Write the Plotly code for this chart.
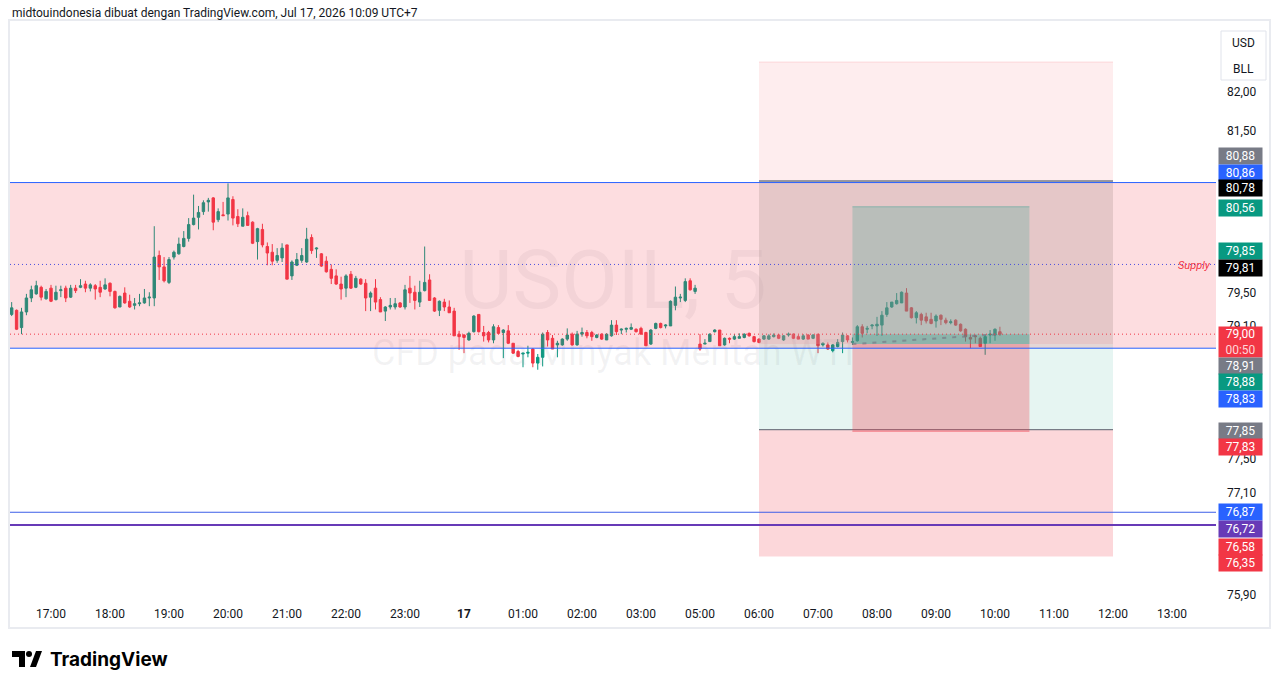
import math
import plotly.graph_objects as go

# ---------------- data (5-minute candles, USOIL) ----------------
opens = [
    79.24, 79.29, 79.08, 79.27, 79.44, 79.49, 79.57, 79.43, 79.56, 79.42, 79.53, 79.56,
    79.45, 79.56, 79.57, 79.61, 79.56, 79.59, 79.57, 79.55, 79.62, 79.52, 79.33, 79.50,
    79.40, 79.35, 79.37, 79.38, 79.44, 79.44, 79.96, 79.82, 79.63, 79.94, 79.98, 80.07,
    80.17, 80.34, 80.43, 80.50, 80.62, 80.67, 80.40, 80.46, 80.47, 80.65, 80.44, 80.32,
    80.45, 80.37, 80.13, 80.28, 80.07, 80.00, 79.90, 79.93, 80.09, 79.71, 79.84, 79.90,
    79.88, 80.18, 80.04, 79.98, 79.89, 79.79, 79.71, 79.61, 79.56, 79.73, 79.57, 79.67,
    79.62, 79.45, 79.56, 79.42, 79.28, 79.33, 79.33, 79.38, 79.33, 79.56, 79.51, 79.39,
    79.53, 79.66, 79.44, 79.29, 79.39, 79.33, 79.28, 79.00, 78.99, 78.93, 79.03, 79.24,
    79.02, 79.02, 78.93, 79.08, 79.02, 79.04, 78.89, 78.79, 78.76, 78.77, 78.82, 78.65,
    78.72, 79.02, 78.95, 78.87, 78.87, 78.94, 79.00, 78.87, 79.00, 79.02, 79.02, 78.96,
    79.00, 78.93, 78.98, 79.11, 79.05, 79.06, 79.06, 79.06, 79.07, 79.02, 78.88, 79.07,
    79.13, 79.10, 79.10, 79.35, 79.44, 79.41, 79.65, 79.52,
    78.88, 78.88, 78.91, 79.03, 79.05, 78.87, 78.95, 78.94, 78.95, 78.96, 79.01, 78.97,
    78.94, 78.94, 78.94, 78.97, 78.99, 78.93, 78.99, 79.00, 78.97, 78.94, 78.99, 78.95,
    79.00, 78.87, 78.87, 78.80, 78.85, 78.91, 78.98, 78.90, 78.92, 79.09, 79.06, 79.10,
    79.10, 79.11, 79.24, 79.33, 79.37, 79.38, 79.50, 79.32, 79.20, 79.24, 79.21, 79.18,
    79.16, 79.23, 79.17, 79.14, 79.17, 79.12, 79.06, 78.96, 78.98, 78.95, 78.89, 78.99,
    78.99, 79.03,
]
highs = [
    79.39, 79.30, 79.32, 79.49, 79.59, 79.65, 79.59, 79.55, 79.60, 79.59, 79.59, 79.59,
    79.60, 79.60, 79.67, 79.65, 79.62, 79.61, 79.65, 79.68, 79.63, 79.53, 79.47, 79.57,
    79.48, 79.44, 79.49, 79.55, 79.51, 80.32, 80.02, 79.94, 79.94, 80.02, 80.18, 80.26,
    80.42, 80.71, 80.57, 80.64, 80.67, 80.68, 80.54, 80.62, 80.85, 80.69, 80.53, 80.54,
    80.50, 80.38, 80.30, 80.35, 80.12, 80.10, 80.05, 80.11, 80.09, 79.90, 79.99, 80.05,
    80.30, 80.22, 80.06, 79.99, 79.95, 79.85, 79.79, 79.70, 79.73, 79.77, 79.71, 79.68,
    79.67, 79.52, 79.67, 79.45, 79.34, 79.44, 79.44, 79.39, 79.60, 79.71, 79.59, 79.65,
    80.07, 79.73, 79.45, 79.41, 79.43, 79.41, 79.32, 79.04, 79.00, 79.03, 79.23, 79.24,
    79.10, 79.04, 79.12, 79.11, 79.06, 79.11, 78.89, 78.81, 78.77, 78.86, 78.83, 78.76,
    79.02, 79.05, 78.99, 78.92, 78.95, 79.07, 79.02, 79.04, 79.08, 79.05, 79.04, 79.00,
    79.01, 79.01, 79.17, 79.17, 79.07, 79.08, 79.13, 79.07, 79.09, 79.03, 79.06, 79.14,
    79.14, 79.12, 79.41, 79.58, 79.49, 79.68, 79.68, 79.60,
    79.00, 78.94, 79.01, 79.06, 79.05, 78.96, 78.96, 79.00, 79.01, 79.01, 79.02, 78.98,
    78.95, 78.99, 79.00, 79.01, 79.00, 78.99, 79.02, 79.01, 78.99, 79.00, 79.00, 79.00,
    79.00, 78.90, 78.90, 78.88, 78.94, 79.02, 78.99, 78.96, 79.11, 79.12, 79.10, 79.12,
    79.21, 79.28, 79.39, 79.39, 79.50, 79.52, 79.56, 79.33, 79.28, 79.26, 79.26, 79.26,
    79.24, 79.24, 79.20, 79.18, 79.18, 79.13, 79.07, 78.99, 78.99, 78.97, 78.99, 79.05,
    79.07, 79.09,
]
lows = [
    79.22, 79.05, 79.00, 79.23, 79.39, 79.48, 79.41, 79.42, 79.39, 79.41, 79.45, 79.39,
    79.44, 79.50, 79.56, 79.51, 79.52, 79.42, 79.45, 79.54, 79.46, 79.31, 79.33, 79.37,
    79.32, 79.30, 79.34, 79.37, 79.34, 79.34, 79.66, 79.63, 79.61, 79.91, 79.97, 80.06,
    80.13, 80.33, 80.28, 80.46, 80.50, 80.27, 80.37, 80.45, 80.39, 80.33, 80.31, 80.32,
    80.33, 80.10, 79.91, 80.06, 79.84, 79.84, 79.87, 79.88, 79.67, 79.66, 79.83, 79.87,
    79.87, 79.98, 79.93, 79.82, 79.75, 79.61, 79.60, 79.42, 79.45, 79.55, 79.56, 79.60,
    79.28, 79.28, 79.30, 79.27, 79.16, 79.30, 79.30, 79.32, 79.30, 79.38, 79.30, 79.33,
    79.52, 79.41, 79.27, 79.22, 79.28, 79.26, 78.98, 78.81, 78.77, 78.92, 79.02, 79.02,
    78.91, 78.90, 78.89, 79.00, 78.71, 78.88, 78.76, 78.72, 78.60, 78.72, 78.60, 78.57,
    78.61, 78.85, 78.82, 78.72, 78.86, 78.92, 78.86, 78.86, 78.97, 78.95, 78.92, 78.95,
    78.93, 78.93, 78.97, 78.99, 79.00, 79.02, 79.05, 79.02, 79.00, 78.86, 78.87, 79.06,
    79.07, 79.07, 79.10, 79.29, 79.39, 79.39, 79.53, 79.49,
    78.80, 78.88, 78.91, 79.02, 78.86, 78.86, 78.89, 78.93, 78.95, 78.95, 78.97, 78.90,
    78.89, 78.93, 78.93, 78.96, 78.94, 78.92, 78.97, 78.94, 78.94, 78.93, 78.94, 78.94,
    78.77, 78.85, 78.81, 78.78, 78.84, 78.77, 78.90, 78.87, 78.91, 78.96, 79.01, 79.06,
    78.98, 78.98, 79.21, 79.32, 79.36, 79.38, 79.28, 79.19, 79.13, 79.11, 79.13, 79.12,
    79.08, 79.11, 79.12, 79.12, 79.10, 79.03, 78.91, 78.83, 78.89, 78.85, 78.75, 78.89,
    78.92, 78.98,
]
closes = [
    79.32, 79.06, 79.27, 79.44, 79.54, 79.59, 79.45, 79.52, 79.40, 79.51, 79.54, 79.44,
    79.56, 79.53, 79.59, 79.56, 79.60, 79.55, 79.51, 79.60, 79.52, 79.32, 79.46, 79.38,
    79.33, 79.37, 79.38, 79.44, 79.45, 79.94, 79.82, 79.65, 79.91, 80.00, 80.10, 80.17,
    80.34, 80.42, 80.49, 80.61, 80.64, 80.37, 80.50, 80.45, 80.67, 80.42, 80.35, 80.43,
    80.33, 80.11, 80.29, 80.09, 79.99, 79.89, 79.96, 80.05, 79.67, 79.88, 79.91, 79.96,
    80.16, 80.02, 80.05, 79.83, 79.76, 79.68, 79.61, 79.55, 79.71, 79.56, 79.68, 79.61,
    79.44, 79.50, 79.39, 79.27, 79.33, 79.35, 79.37, 79.33, 79.54, 79.50, 79.41, 79.51,
    79.63, 79.41, 79.28, 79.40, 79.33, 79.26, 78.98, 78.97, 78.96, 79.01, 79.22, 79.03,
    78.98, 78.93, 79.09, 79.01, 79.05, 78.89, 78.77, 78.73, 78.77, 78.78, 78.65, 78.72,
    79.00, 78.93, 78.82, 78.89, 78.94, 78.99, 78.87, 79.00, 79.02, 78.98, 78.97, 78.99,
    78.94, 79.00, 79.11, 79.03, 79.06, 79.07, 79.08, 79.03, 79.00, 78.86, 79.05, 79.13,
    79.08, 79.11, 79.40, 79.45, 79.45, 79.64, 79.54, 79.56,
    78.82, 78.89, 79.00, 79.05, 78.86, 78.95, 78.94, 78.97, 78.97, 79.00, 78.98, 78.91,
    78.90, 78.98, 78.98, 78.99, 78.95, 78.98, 79.00, 78.95, 78.94, 78.98, 78.94, 78.99,
    78.86, 78.89, 78.82, 78.87, 78.90, 78.99, 78.93, 78.91, 79.09, 79.01, 79.07, 79.11,
    79.12, 79.23, 79.32, 79.39, 79.41, 79.51, 79.28, 79.20, 79.26, 79.17, 79.16, 79.13,
    79.22, 79.18, 79.14, 79.15, 79.11, 79.04, 78.97, 78.94, 78.97, 78.85, 78.97, 79.00,
    79.06, 79.00,
]
bar_index = list(range(len(opens)))

# time-axis ticks (bar index of each labelled hour; 04:00 is the daily break)
tick_index = [8, 20, 32, 44, 56, 68, 80, 92, 104, 116, 128, 140, 152, 164, 176, 188, 200, 212, 224, 236]
tick_labels = ["17:00", "18:00", "19:00", "20:00", "21:00", "22:00", "23:00", "<b>17</b>",
               "01:00", "02:00", "03:00", "05:00", "06:00", "07:00", "08:00", "09:00",
               "10:00", "11:00", "12:00", "13:00"]

# price-axis ticks that are not hidden behind price labels (log scale)
price_ticks = [82.0, 81.5, 79.5, 79.1, 77.5, 77.1, 75.9]

# drawn levels
supply_top = 80.86
supply_bottom = 78.83
supply_mid = 79.85
last_price = 79.00
level_a = 76.87
level_b = 76.72

# outer position tool (bar indexes / prices)
outer_start, outer_end = 152, 224
outer_top = 82.37
outer_gray_top = 80.88
outer_entry = 78.88
outer_target = 77.85
outer_bottom = 76.35

# inner (long) position tool
inner_start, inner_end = 171, 207
inner_entry = 78.88
inner_tp = 80.56
inner_sl = 77.83

# price-scale labels
label_prices = [80.88, 80.86, 80.78, 80.56, 79.85, 79.81, 79.00, 78.91, 78.88, 78.83,
                77.85, 77.83, 76.87, 76.72, 76.58, 76.35]

# ---------------- styles ----------------
UP = "#089981"
DN = "#f23645"
BLUE = "#2962ff"
GRAY = "#787b86"
PURPLE = "#673ab7"
TXT = "#131722"
label_colors = [GRAY, BLUE, "#000000", UP, UP, "#000000", DN, GRAY, UP, BLUE,
                GRAY, DN, BLUE, PURPLE, DN, DN]
label_nudge = [25, 10, 1, -1, 13, 0, -8, -24, -38, -51, -1, -16, 0, -4, -10, -7]

x_lo, x_hi = -0.34, 244.95
p_lo, p_hi = 75.83, 82.89
log_lo, log_hi = math.log10(p_lo), math.log10(p_hi)


def pane_price(frac):
    return 10 ** (log_lo + frac * (log_hi - log_lo))


fig = go.Figure()

# watermark (under everything)
x_mid = (x_lo + x_hi) / 2
fig.add_trace(go.Scatter(
    x=[x_mid, x_mid], y=[pane_price(0.541), pane_price(0.422)],
    mode="text", text=["USOIL, 5", "CFD pada Minyak Mentah WTI"],
    textposition="middle center",
    textfont=dict(size=[82, 36], color="rgba(120,123,134,0.09)", family="Roboto"),
    hoverinfo="skip", showlegend=False))

fig.add_trace(go.Candlestick(
    x=bar_index, open=opens, high=highs, low=lows, close=closes,
    increasing=dict(line=dict(color=UP, width=1), fillcolor=UP),
    decreasing=dict(line=dict(color=DN, width=1), fillcolor=DN),
    whiskerwidth=0, hoverinfo="skip", showlegend=False))


def rect(x0, x1, y0, y1, fill, xref="x"):
    fig.add_shape(type="rect", xref=xref, yref="y", x0=x0, x1=x1, y0=y0, y1=y1,
                  fillcolor=fill, line=dict(width=0), layer="above")


def hline(x0, x1, y, color, width=1, dash="solid", xref="x"):
    fig.add_shape(type="line", xref=xref, yref="y", x0=x0, x1=x1, y0=y, y1=y,
                  line=dict(color=color, width=width, dash=dash), layer="above")


# supply zone
rect(0, 1, supply_bottom, supply_top, "rgba(242,54,69,0.17)", xref="paper")

# outer position tool
rect(outer_start, outer_end, outer_entry, outer_top, "rgba(242,54,69,0.09)")
rect(outer_start, outer_end, outer_entry, outer_gray_top, "rgba(165,180,178,0.27)")
rect(outer_start, outer_end, outer_target, outer_entry, "rgba(8,153,129,0.10)")
rect(outer_start, outer_end, outer_bottom, outer_target, "rgba(242,54,69,0.20)")
hline(outer_start, outer_end, outer_top, "rgba(242,54,69,0.15)")
hline(outer_start, outer_end, outer_gray_top, GRAY, 1.5)
hline(outer_start, outer_end, outer_target, GRAY, 1.2)

# inner long position tool
rect(inner_start, inner_end, inner_entry, inner_tp, "rgba(8,153,129,0.20)")
rect(inner_start, inner_end, inner_sl, inner_entry, "rgba(242,54,69,0.30)")
rect(inner_start, inner_end, inner_entry, last_price, "rgba(8,153,129,0.25)")
hline(inner_start, inner_end, inner_tp, "rgba(8,153,129,0.35)")
hline(inner_start, inner_end, inner_sl, "rgba(242,54,69,0.35)")
fig.add_shape(type="line", xref="x", yref="y", x0=inner_start, x1=bar_index[-1],
              y0=inner_entry, y1=closes[-1],
              line=dict(color="rgba(120,123,134,0.7)", width=2, dash="4px,6px"), layer="above")

# horizontal levels
hline(0, 1, supply_top, BLUE, 1, xref="paper")
hline(0, 1, supply_bottom, BLUE, 1, xref="paper")
hline(0, 1, supply_mid, "#4a4fe0", 1, "1px,3px", xref="paper")
hline(0, 1, last_price, DN, 1, "1px,3px", xref="paper")
hline(0, 1, level_a, "#3d5fe8", 1, xref="paper")
hline(0, 1, level_b, PURPLE, 2, xref="paper")

# ---------------- annotations ----------------
ann = []
ann.append(dict(xref="paper", yref="y", x=1, y=math.log10(supply_mid), xanchor="right",
                yanchor="middle", xshift=-3, yshift=-1, text="Supply", showarrow=False,
                font=dict(family="Roboto", size=11, color=DN, style="italic")))

for p, c, nudge in zip(label_prices, label_colors, label_nudge):
    txt = f"{p:.2f}".replace(".", ",")
    h = 14
    if p == last_price:
        txt = txt + "<br><span style='color:#ffd6da'>00:50</span>"
        h = 28
    ann.append(dict(xref="paper", yref="y", x=1, y=math.log10(p), xanchor="left",
                    yanchor="middle", xshift=2, yshift=nudge, text=txt, showarrow=False,
                    bgcolor=c, width=41, height=h, borderpad=1, align="center",
                    font=dict(family="Roboto", size=12, color="white")))

# header
ann.append(dict(xref="paper", yref="paper", x=0, y=1, xanchor="left", yanchor="middle",
                xshift=0, yshift=8, showarrow=False,
                text="midtouindonesia dibuat dengan TradingView.com, Jul 17, 2026 10:09 UTC+7",
                font=dict(family="Roboto", size=12, color=TXT)))
# currency box
ann.append(dict(xref="paper", yref="paper", x=1, y=1, xanchor="center", yanchor="middle",
                xshift=27, yshift=-22, showarrow=False, text="USD",
                font=dict(family="Roboto", size=12, color=TXT)))
ann.append(dict(xref="paper", yref="paper", x=1, y=1, xanchor="center", yanchor="middle",
                xshift=27, yshift=-48, showarrow=False, text="BLL",
                font=dict(family="Roboto", size=12, color=TXT)))
# logo text
ann.append(dict(xref="paper", yref="paper", x=0, y=0, xanchor="left", yanchor="middle",
                xshift=38, yshift=-58, showarrow=False, text="<b>TradingView</b>",
                font=dict(family="Inter", size=19, color="#000000")))

# frame, currency box, logo icon (pixel-sized decorations)
fig.add_shape(type="rect", xref="paper", yref="paper", xsizemode="pixel", ysizemode="pixel",
              xanchor=0, yanchor=0, x0=-1, x1=1260, y0=-27, y1=581,
              line=dict(color="#e9ebf0", width=2), fillcolor="rgba(0,0,0,0)", layer="above")
fig.add_shape(type="rect", xref="paper", yref="paper", xsizemode="pixel", ysizemode="pixel",
              xanchor=1, yanchor=1, x0=5, x1=50, y0=-10, y1=-59,
              line=dict(color="#e0e3eb", width=1), fillcolor="white", layer="above")
logo_paths = [
    "M 2 -50 L 15 -50 L 15 -66 L 9 -66 L 9 -56 L 2 -56 Z",
    "M 20 -66 L 26 -66 L 32 -50 L 26 -50 Z",
]
for pth in logo_paths:
    fig.add_shape(type="path", xref="paper", yref="paper", xsizemode="pixel", ysizemode="pixel",
                  xanchor=0, yanchor=0, path=pth, fillcolor="#000000", line=dict(width=0),
                  layer="above")
fig.add_shape(type="circle", xref="paper", yref="paper", xsizemode="pixel", ysizemode="pixel",
              xanchor=0, yanchor=0, x0=16, x1=22, y0=-50, y1=-56, fillcolor="#000000",
              line=dict(width=0), layer="above")

fig.update_layout(
    width=1281, height=688,
    margin=dict(l=10, r=65, t=21, b=87),
    paper_bgcolor="white", plot_bgcolor="white",
    separators=",.",
    showlegend=False,
    annotations=ann,
    xaxis=dict(range=[x_lo, x_hi], tickmode="array", tickvals=tick_index, ticktext=tick_labels,
               showgrid=False, zeroline=False, showline=False, ticks="", ticklabelstandoff=4,
               tickfont=dict(family="Roboto", size=12, color=TXT),
               rangeslider=dict(visible=False), fixedrange=True),
    yaxis=dict(type="log", range=[log_lo, log_hi], side="right", tickmode="array",
               tickvals=price_ticks, tickformat=".2f", showgrid=False, zeroline=False,
               showline=False, ticks="", ticklabelstandoff=10,
               tickfont=dict(family="Roboto", size=12, color=TXT), fixedrange=True),
)

fig.write_html("out.html")
